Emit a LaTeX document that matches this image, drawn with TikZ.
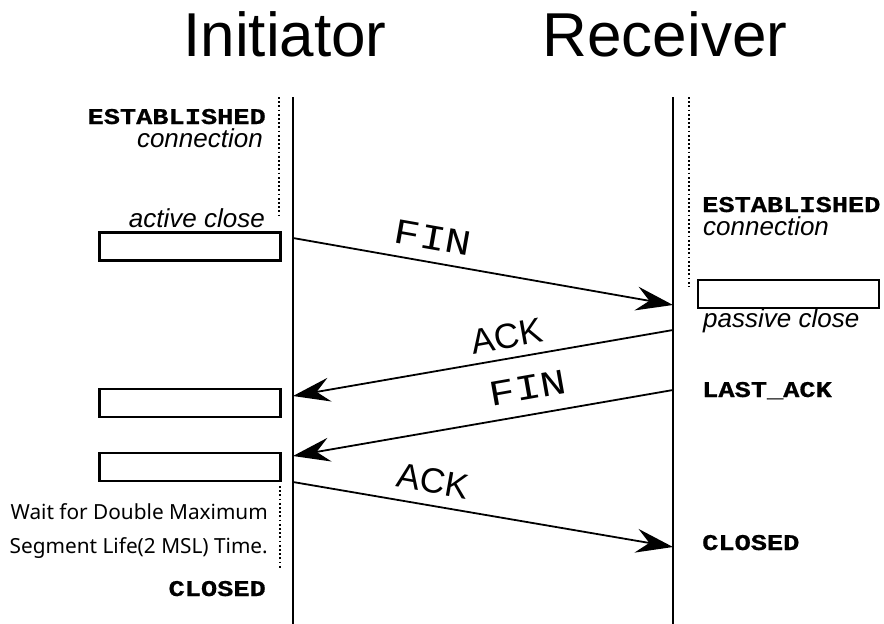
\documentclass[tikz,border=0pt]{standalone}
\usepackage{fontspec}
\setmainfont{Liberation Sans}
\newfontfamily\monof[FakeStretch=1.2, BoldFeatures={FakeBold=0.7}]{Liberation Mono}
\newfontfamily\notef{Noto Sans}
\usetikzlibrary{arrows.meta}
\begin{document}
\begin{tikzpicture}[x=1pt,y=-1pt,
  life/.style={line width=2pt},
  dots/.style={line width=2pt, dash pattern=on 1.8pt off 2.4pt},
  statebox/.style={draw, line width=2.2pt, minimum width=181pt, minimum height=28pt, inner sep=0pt},
  msg/.style={line width=1.8pt, -{Stealth[length=37pt,width=24pt,inset=13pt]}},
  title/.style={font=\fontsize{62}{62}\selectfont, inner sep=0pt, anchor=base},
  st/.style={font=\monof\bfseries\fontsize{22.5}{22.5}\selectfont, inner sep=0pt},
  note/.style={font=\itshape\fontsize{26}{26}\selectfont, inner sep=0pt},
  wait/.style={font=\notef\fontsize{20.8}{20.8}\selectfont, inner sep=0pt, anchor=base east},
  fin/.style={font=\monof\fontsize{36}{36}\selectfont, inner sep=0pt},
  ack/.style={font=\fontsize{35}{35}\selectfont, inner sep=0pt},
]
\useasboundingbox (0,0) rectangle (884,624);

% titles
\node[title] (tI) at (285,56) {Initiator};
\node[title] (tR) at (665,56) {Receiver};

% lifelines
\coordinate (Ltop) at (293,97);
\coordinate (Lbot) at (293,624);
\coordinate (Rtop) at (673,97);
\coordinate (Rbot) at (673,624);
\draw[life] (Ltop) -- (Lbot);
\draw[life] (Rtop) -- (Rbot);

% dotted waits
\coordinate (d1a) at (279,97);  \coordinate (d1b) at (279,215);
\coordinate (d2a) at (280,486); \coordinate (d2b) at (280,568);
\coordinate (d3a) at (689,97);  \coordinate (d3b) at (689,287);
\draw[dots] (d1a) -- (d1b);
\draw[dots] (d2a) -- (d2b);
\draw[dots] (d3a) -- (d3b);

% state boxes
\node[statebox] (b1) at (190,246.5) {};
\node[statebox] (b2) at (190,403) {};
\node[statebox] (b3) at (190,467) {};
\node[statebox] (b4) at (788.5,294) {};

% left labels
\node[st, anchor=base east] (estL) at (266,124) {ESTABLISHED};
\node[note, anchor=base east] (conL) at (263,147) {connection};
\node[note, anchor=base east] (act) at (265,227) {active close};
\node[wait] (w1) at (268,519) {Wait for Double Maximum};
\node[wait] (w2) at (268,553) {Segment Life(2 MSL) Time.};
\node[st, anchor=base east] (clL) at (266,596) {CLOSED};

% right labels
\node[st, anchor=base west] (estR) at (702,212) {ESTABLISHED};
\node[note, anchor=base west] (conR) at (703,235) {connection};
\node[note, anchor=base west] (pas) at (703,327) {passive close};
\node[st, anchor=base west] (last) at (702,397) {LAST\_ACK};
\node[st, anchor=base west] (clR) at (702,550) {CLOSED};

% messages
\coordinate (f1s) at (293,238); \coordinate (f1e) at (673,305);
\coordinate (a1s) at (673,330); \coordinate (a1e) at (293,396);
\coordinate (f2s) at (673,390); \coordinate (f2e) at (293,456);
\coordinate (a2s) at (293,482); \coordinate (a2e) at (673,547);
\draw[msg] (f1s) -- (f1e);
\draw[msg] (a1s) -- (a1e);
\draw[msg] (f2s) -- (f2e);
\draw[msg] (a2s) -- (a2e);

\node[fin, rotate=-10] (lf1) at (433,238) {FIN};
\node[ack, rotate=10] (la1) at (507,336) {ACK};
\node[fin, rotate=10] (lf2) at (528,388) {FIN};
\node[ack, rotate=-10] (la2) at (433,481) {ACK};
\end{tikzpicture}
\end{document}
